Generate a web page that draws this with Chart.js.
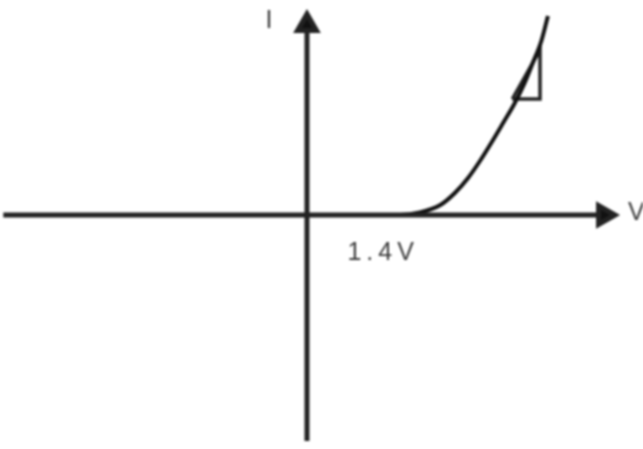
<!DOCTYPE html>
<html>
<head>
<meta charset="utf-8">
<script src="https://cdn.jsdelivr.net/npm/chart.js"></script>
<style>
  html, body { margin: 0; padding: 0; background: #fff; }
  #grafico { display: block; filter: blur(1.1px); }
</style>
</head>
<body>
<canvas id="grafico" width="643" height="449"></canvas>
<script>
// curva I x V do diodo (V em volts, I em unidades arbitrárias)
const tensao   = [0, 1.41, 1.71,  2.02, 2.24, 2.44, 2.62, 2.80, 2.98, 3.14, 3.29, 3.42, 3.55, 3.65];
const corrente = [0, 0,    0.125, 0.5,  1.1,  1.85, 2.7,  3.65, 4.65, 5.55, 6.55, 7.6,  8.7,  9.95];

// triângulo de inclinação junto da curva
const triV = [3.11, 3.53, 3.53, 3.11];
const triI = [5.8,  5.8,  8.25, 5.8];

// limites dos eixos desenhados
const eixoV = [-4.6, 4.5];
const eixoI = [-11.3, 9.5];

const rotuloJoelho = '1.4V';
const joelho = 1.4;

const pontos = (xs, ys) => xs.map((x, i) => ({ x: x, y: ys[i] }));

const rotulos = {
  id: 'rotulos',
  afterDraw(chart) {
    const { ctx, scales: { x, y } } = chart;
    ctx.save();
    ctx.fillStyle = '#3a3a3a';
    ctx.font = '25px "Liberation Sans", sans-serif';
    ctx.textBaseline = 'middle';
    ctx.textAlign = 'center';
    ctx.fillText('I', x.getPixelForValue(0) - 38, y.getPixelForValue(9.7));
    ctx.fillText('V', x.getPixelForValue(4.99), y.getPixelForValue(0.1));
    ctx.textAlign = 'left';
    ctx.letterSpacing = '5px';
    ctx.fillText(rotuloJoelho, x.getPixelForValue(joelho) - 52, y.getPixelForValue(-1.9));
    ctx.restore();
  }
};

const ctx = document.getElementById('grafico').getContext('2d');
new Chart(ctx, {
  type: 'scatter',
  data: {
    datasets: [
      {
        data: [{ x: eixoV[0], y: 0 }, { x: eixoV[1], y: 0 }],
        showLine: true,
        borderColor: '#222',
        backgroundColor: '#111',
        borderWidth: 5,
        pointRadius: [0, 11],
        pointStyle: 'triangle',
        rotation: 90
      },
      {
        data: [{ x: 0, y: eixoI[0] }, { x: 0, y: eixoI[1] }],
        showLine: true,
        borderColor: '#222',
        backgroundColor: '#111',
        borderWidth: 5,
        pointRadius: [0, 11],
        pointStyle: 'triangle',
        rotation: 0
      },
      {
        data: pontos(tensao, corrente),
        showLine: true,
        borderColor: '#111',
        borderWidth: 4,
        pointRadius: 0,
        cubicInterpolationMode: 'monotone'
      },
      {
        data: pontos(triV, triI),
        showLine: true,
        borderColor: '#222',
        borderWidth: 3.5,
        pointRadius: 0
      }
    ]
  },
  options: {
    responsive: false,
    animation: false,
    layout: { padding: 0, autoPadding: false },
    plugins: { legend: { display: false }, tooltip: { enabled: false } },
    scales: {
      x: { type: 'linear', min: -4.65, max: 5.09, display: false },
      y: { type: 'linear', min: -11.7, max: 10.75, display: false }
    }
  },
  plugins: [rotulos]
});
</script>
</body>
</html>
